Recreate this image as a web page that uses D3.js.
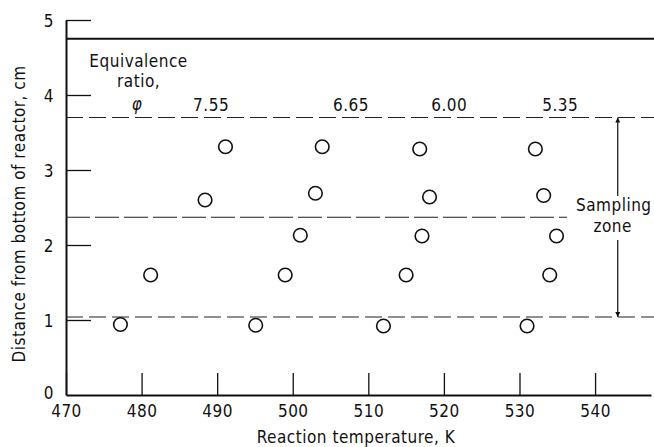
<!DOCTYPE html>
<html>
<head>
<meta charset="utf-8">
<script src="https://cdn.jsdelivr.net/npm/d3@7"></script>
<style>
  body { margin: 0; background: #fff; }
  text { font-family: "DejaVu Sans Condensed", "Liberation Sans", sans-serif; font-size: 17px; letter-spacing: 0.5px; fill: #111; }
</style>
</head>
<body>
<div class="chart"></div>
<script>
// equivalence ratio groups and measured points (temperature K, height cm)
const ratios = ["7.55", "6.65", "6.00", "5.35"];
const ratioLabelX = [489.2, 507.7, 520.7, 535.4];
const temps = [
  [477.2, 481.2, 488.4, 491.1],
  [495.1, 499.0, 501.0, 503.0, 503.9],
  [512.0, 515.0, 517.1, 518.1, 516.8],
  [531.0, 534.0, 534.9, 533.2, 532.1]
];
const heights = [
  [0.94, 1.60, 2.60, 3.31],
  [0.93, 1.60, 2.13, 2.69, 3.31],
  [0.92, 1.60, 2.12, 2.64, 3.28],
  [0.92, 1.60, 2.12, 2.66, 3.28]
];
const xTicks = [470, 480, 490, 500, 510, 520, 530, 540];
const yTicks = [0, 1, 2, 3, 4, 5];
const reactorTop = 4.75;
const zoneTop = 3.7, zoneMid = 2.37, zoneBottom = 1.04;

const width = 654, height = 447;
const svg = d3.select(".chart").append("svg")
    .attr("width", width)
    .attr("height", height);

const x = d3.scaleLinear().domain([470, 547.4]).range([66, 651]);
const y = d3.scaleLinear().domain([0, 5]).range([395, 20]);

// axes, ticks pointing inward
const xAxis = svg.append("g")
    .attr("transform", `translate(0, ${y(0)})`)
    .call(d3.axisBottom(x).tickValues(xTicks).tickFormat(d3.format("d"))
      .tickSizeInner(-22).tickSizeOuter(0).tickPadding(10));
const yAxis = svg.append("g")
    .attr("transform", `translate(${x(470)}, 0)`)
    .call(d3.axisLeft(y).tickValues(yTicks).tickFormat(d3.format("d"))
      .tickSizeInner(-25).tickSizeOuter(0).tickPadding(12));

[xAxis, yAxis].forEach(a => {
  a.select(".domain").attr("stroke", "#111").attr("stroke-width", 2);
  a.selectAll(".tick line").attr("stroke", "#111").attr("stroke-width", 1.3);
  a.selectAll(".tick text").attr("font-size", null).attr("font-family", null).attr("fill", "#111");
});
yAxis.select(".tick line").attr("stroke-width", 0);
yAxis.selectAll(".tick text").attr("dy", (d) => d === 0 ? "0.2em" : "0.4em");

// reactor top and sampling zone lines
svg.append("line")
    .attr("x1", x(470)).attr("x2", width)
    .attr("y1", y(reactorTop)).attr("y2", y(reactorTop))
    .attr("stroke", "#111").attr("stroke-width", 2);

[zoneTop, zoneBottom].forEach(v => {
  svg.append("line")
      .attr("x1", x(470)).attr("x2", width)
      .attr("y1", y(v)).attr("y2", y(v))
      .attr("stroke", "#222").attr("stroke-width", 1.2)
      .attr("stroke-dasharray", "17,6");
});
svg.append("line")
    .attr("x1", x(470)).attr("x2", x(536.3))
    .attr("y1", y(zoneMid)).attr("y2", y(zoneMid))
    .attr("stroke", "#222").attr("stroke-width", 1.2)
    .attr("stroke-dasharray", "24,5");

// sampling zone double arrow
svg.append("defs").append("marker")
    .attr("id", "head")
    .attr("viewBox", "0 0 10 10")
    .attr("refX", 10).attr("refY", 5)
    .attr("markerWidth", 5).attr("markerHeight", 9)
    .attr("markerUnits", "userSpaceOnUse")
    .attr("orient", "auto")
  .append("path")
    .attr("d", "M0,0L10,5L0,10z")
    .attr("fill", "#111");

const ax = x(543.0);
svg.append("line")
    .attr("x1", ax).attr("x2", ax)
    .attr("y1", 196).attr("y2", y(zoneTop))
    .attr("stroke", "#111").attr("stroke-width", 1.2)
    .attr("marker-end", "url(#head)");
svg.append("line")
    .attr("x1", ax).attr("x2", ax)
    .attr("y1", 240).attr("y2", y(zoneBottom))
    .attr("stroke", "#111").attr("stroke-width", 1.2)
    .attr("marker-end", "url(#head)");
svg.append("text").attr("x", ax - 4).attr("y", 211)
    .attr("text-anchor", "middle").text("Sampling");
svg.append("text").attr("x", ax - 5).attr("y", 232)
    .attr("text-anchor", "middle").text("zone");

// points
const pts = temps.flatMap((row, i) => row.map((t, j) => ({t, h: heights[i][j]})));
svg.selectAll("circle.pt")
  .data(pts)
  .enter()
  .append("circle")
    .attr("class", "pt")
    .attr("cx", d => x(d.t))
    .attr("cy", d => y(d.h))
    .attr("r", 6.8)
    .attr("fill", "none")
    .attr("stroke", "#111")
    .attr("stroke-width", 1.6);

// legend-ish labels
svg.append("text").attr("x", x(479.6)).attr("y", 67)
    .attr("text-anchor", "middle").text("Equivalence");
svg.append("text").attr("x", x(479.6)).attr("y", 87)
    .attr("text-anchor", "middle").text("ratio,");
svg.append("text").attr("x", x(479.4)).attr("y", 110)
    .attr("text-anchor", "middle").attr("font-style", "italic").text("φ");
svg.selectAll("text.ratio")
  .data(ratios)
  .enter()
  .append("text")
    .attr("class", "ratio")
    .attr("x", (d, i) => x(ratioLabelX[i]))
    .attr("y", 111)
    .attr("text-anchor", "middle")
    .text(d => d);

// axis titles
svg.append("text")
    .attr("x", 356).attr("y", 443)
    .attr("text-anchor", "middle")
    .text("Reaction temperature, K");
svg.append("text")
    .attr("transform", `translate(25, 214) rotate(-90)`)
    .attr("text-anchor", "middle")
    .text("Distance from bottom of reactor, cm");
</script>
</body>
</html>
